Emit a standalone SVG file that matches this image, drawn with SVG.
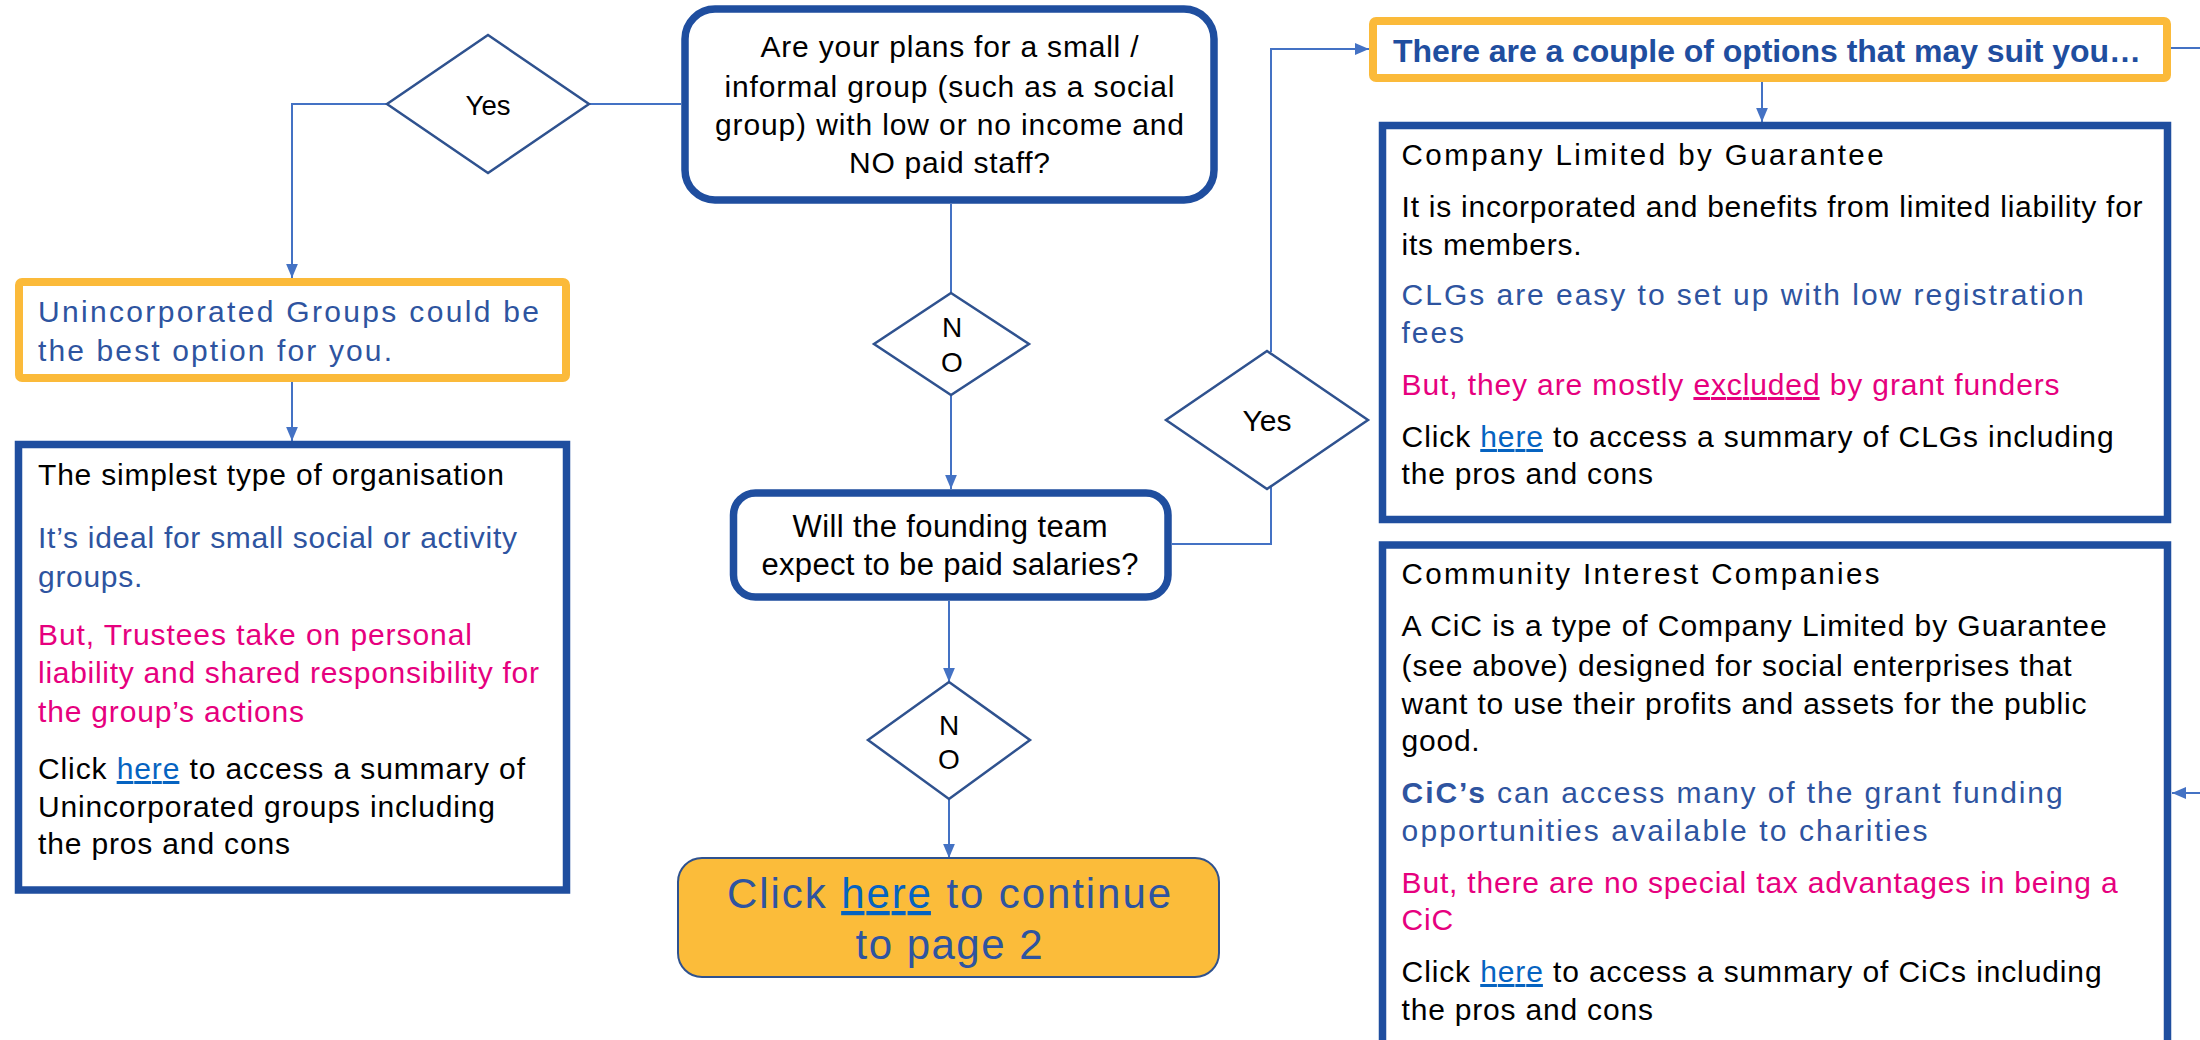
<svg xmlns="http://www.w3.org/2000/svg" width="2200" height="1040" viewBox="0 0 2200 1040">
<style>
text{font-family:"Liberation Sans",Arial,Helvetica,sans-serif;font-size:30px;fill:#000}
.blk{fill:#000}
.blu{fill:#2E54A0}
.pnk{fill:#E6007E}
.lnk{fill:#0563C1;text-decoration:underline}
.ctr{text-anchor:middle}
.hdr{font-size:29.5px}
.box{fill:#fff;stroke:#1F4E9F;stroke-width:7.5}
.obox{fill:#fff;stroke:#FBBA3A;stroke-width:8}
.dia{fill:#fff;stroke:#2F528F;stroke-width:2.5}
.con{fill:none;stroke:#4472C4;stroke-width:2}
.arr{marker-end:url(#ah)}
</style>
<defs>
<marker id="ah" viewBox="0 0 10 10" refX="10" refY="5" markerWidth="14" markerHeight="14" markerUnits="userSpaceOnUse" orient="auto">
<path d="M0,0.8 L10,5 L0,9.2 z" fill="#4472C4"/>
</marker>
</defs>
<rect width="2200" height="1040" fill="#fff"/>

<g id="connectors">
<path class="con" d="M681,104 H588"/>
<path class="con arr" d="M388,104 H292 V278"/>
<path class="con arr" d="M292,382 V441"/>
<path class="con" d="M951,204 V293"/>
<path class="con arr" d="M951,395 V489"/>
<path class="con arr" d="M949,601 V682"/>
<path class="con arr" d="M949,799 V858"/>
<path class="con" d="M1172,544 H1271 V487"/>
<path class="con arr" d="M1271,352 V49 H1369"/>
<path class="con arr" d="M1762,78 V122"/>
<path class="con arr" d="M2171,48 H2215 V793 H2172"/>
</g>

<g id="q1">
<rect class="box" x="685" y="9" width="529" height="191" rx="30"/>
<text class="ctr" x="949.5" y="57" textLength="378">Are your plans for a small /</text>
<text class="ctr" x="949.5" y="97" textLength="450">informal group (such as a social</text>
<text class="ctr" x="949.5" y="135" textLength="469">group) with low or no income and</text>
<text class="ctr" x="949.5" y="173" textLength="201">NO paid staff?</text>
</g>

<g id="yes1">
<polygon class="dia" points="488,35 589,104 488,173 387,104"/>
<text class="ctr" x="488" y="115" style="font-size:27.5px">Yes</text>
</g>

<g id="uninc-option">
<rect class="obox" x="19" y="282" width="547" height="96" rx="3"/>
<text class="blu" x="38" y="322" textLength="501">Unincorporated Groups could be</text>
<text class="blu" x="38" y="361" textLength="354">the best option for you.</text>
</g>

<g id="uninc-info">
<rect class="box" x="18.5" y="444.5" width="548" height="445.5"/>
<text x="38" y="485" textLength="466">The simplest type of organisation</text>
<text class="blu" x="38" y="548" textLength="479">It’s ideal for small social or activity</text>
<text class="blu" x="38" y="587" letter-spacing="0.7">groups.</text>
<text class="pnk" x="38" y="645" textLength="434">But, Trustees take on personal</text>
<text class="pnk" x="38" y="683" textLength="501">liability and shared responsibility for</text>
<text class="pnk" x="38" y="722" textLength="266">the group’s actions</text>
<text x="38" y="779" textLength="487">Click <tspan class="lnk">here</tspan> to access a summary of</text>
<text x="38" y="817" textLength="457">Unincorporated groups including</text>
<text x="38" y="854" textLength="252">the pros and cons</text>
</g>

<g id="no1">
<polygon class="dia" points="951,293 1029,344 951,395 874,344"/>
<text class="ctr" x="952" y="337" style="font-size:28px">N</text>
<text class="ctr" x="952" y="372" style="font-size:28px">O</text>
</g>

<g id="q2">
<rect class="box" x="733.5" y="493" width="434.5" height="104" rx="22"/>
<text class="ctr" x="950" y="537" style="font-size:31px" textLength="315">Will the founding team</text>
<text class="ctr" x="950" y="575" style="font-size:31px" textLength="377">expect to be paid salaries?</text>
</g>

<g id="no2">
<polygon class="dia" points="949,682 1030,740 949,799 868,740"/>
<text class="ctr" x="949" y="735" style="font-size:28px">N</text>
<text class="ctr" x="949" y="769" style="font-size:28px">O</text>
</g>

<g id="page2">
<rect x="678" y="858" width="541" height="119" rx="24" fill="#FBBC3A" stroke="#2F528F" stroke-width="2"/>
<text class="ctr blu" x="949" y="908" style="font-size:42px" textLength="444">Click <tspan class="lnk">here</tspan> to continue</text>
<text class="ctr blu" x="949" y="959" style="font-size:42px" textLength="187">to page 2</text>
</g>

<g id="yes2">
<polygon class="dia" points="1267,351 1368,420 1267,489 1166,420"/>
<text class="ctr" x="1267" y="431">Yes</text>
</g>

<g id="options">
<rect class="obox" x="1373" y="21" width="794" height="57" rx="3"/>
<text x="1393" y="62" style="font-size:32px;font-weight:bold;fill:#1F4E9F" textLength="748">There are a couple of options that may suit you…</text>
</g>

<g id="clg">
<rect class="box" x="1382.5" y="125.5" width="785" height="394"/>
<text class="hdr" x="1401.6" y="165" textLength="482">Company Limited by Guarantee</text>
<text x="1401.6" y="217" textLength="741">It is incorporated and benefits from limited liability for</text>
<text x="1401.6" y="255" letter-spacing="0.75">its members.</text>
<text class="blu" x="1401.6" y="305" textLength="682">CLGs are easy to set up with low registration</text>
<text class="blu" x="1401.6" y="343" letter-spacing="1.9">fees</text>
<text class="pnk" x="1401.6" y="395" textLength="658">But, they are mostly <tspan style="text-decoration:underline">excluded</tspan> by grant funders</text>
<text x="1401.6" y="447" textLength="712">Click <tspan class="lnk">here</tspan> to access a summary of CLGs including</text>
<text x="1401.6" y="484" letter-spacing="0.8">the pros and cons</text>
</g>

<g id="cic">
<rect class="box" x="1382.5" y="545" width="785" height="520"/>
<text class="hdr" x="1401.6" y="584" textLength="478">Community Interest Companies</text>
<text x="1401.6" y="636" textLength="705">A CiC is a type of Company Limited by Guarantee</text>
<text x="1401.6" y="675.5" textLength="670">(see above) designed for social enterprises that</text>
<text x="1401.6" y="713.5" textLength="685">want to use their profits and assets for the public</text>
<text x="1401.6" y="751" letter-spacing="0.75">good.</text>
<text class="blu" x="1401.6" y="803" textLength="661"><tspan style="font-weight:bold">CiC’s</tspan> can access many of the grant funding</text>
<text class="blu" x="1401.6" y="841" textLength="526">opportunities available to charities</text>
<text class="pnk" x="1401.6" y="892.5" textLength="716">But, there are no special tax advantages in being a</text>
<text class="pnk" x="1401.6" y="930" letter-spacing="0.85">CiC</text>
<text x="1401.6" y="982" textLength="700">Click <tspan class="lnk">here</tspan> to access a summary of CiCs including</text>
<text x="1401.6" y="1020" letter-spacing="0.8">the pros and cons</text>
</g>
</svg>
